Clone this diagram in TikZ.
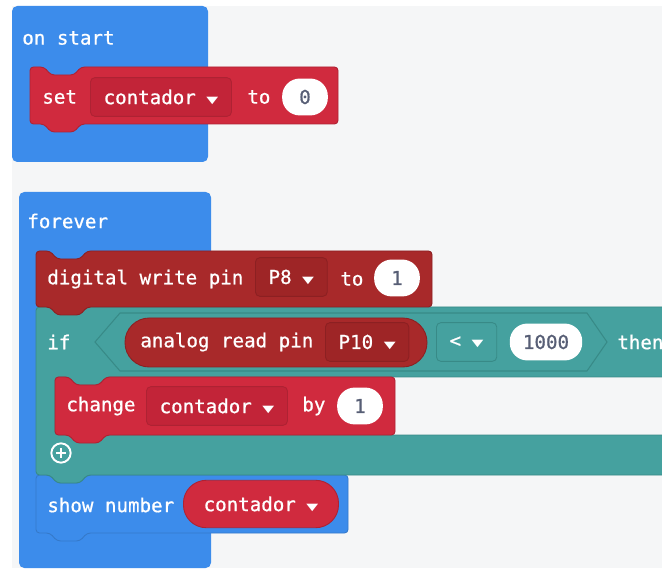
\documentclass[tikz,border=0pt]{standalone}
\usepackage{fontspec}
\usepackage{graphicx}
\usetikzlibrary{calc}
\newfontfamily\blockfont[FakeBold=0.8]{DejaVu Sans Mono}
\newfontfamily\symfont{DejaVu Sans}
\definecolor{CanvasGray}{HTML}{F5F6F7}
\definecolor{BasicBlue}{HTML}{3C8CEB}
\definecolor{BasicEdge}{HTML}{3579C9}
\definecolor{VarRed}{HTML}{D02A3E}
\definecolor{VarEdge}{HTML}{AE2233}
\definecolor{VarDrop}{HTML}{C22438}
\definecolor{PinRed}{HTML}{A8292A}
\definecolor{PinEdge}{HTML}{8C2022}
\definecolor{PinDrop}{HTML}{9E2526}
\definecolor{LogicTeal}{HTML}{45A19F}
\definecolor{LogicEdge}{HTML}{388A87}
\definecolor{PillText}{HTML}{575E75}

% small dropdown triangle
\newcommand{\ddarrow}{\hspace{6pt}\raisebox{0.5pt}{\scalebox{1.1}[0.7]{\symfont\fontsize{8}{8}\selectfont ▼}}}
% stack block with top notch and bottom tab: style, x0, y0, x1, y1
\newcommand{\stackblock}[5]{%
  \path[#1] (#2,#3) -- ({#2+14},#3) -- ({#2+21},{#3+8}) -- ({#2+44},{#3+8})
    -- ({#2+51},#3) -- (#4,#3) -- (#4,#5) -- ({#2+51},#5) -- ({#2+44},{#5+8})
    -- ({#2+21},{#5+8}) -- ({#2+14},#5) -- (#2,#5) -- cycle;}

\begin{document}
\begin{tikzpicture}[x=0.02cm,y=-0.02cm,
    label/.style={font=\blockfont\fontsize{10.9}{13}\selectfont,text=white,
                  inner sep=0pt,anchor=west},
    dropdown/.style 2 args={label,fill=#1,draw=#2,line width=0.5pt,
                  rounded corners=2.5pt,inner xsep=7.5pt,minimum height=22pt},
    pill/.style={label,fill=white,text=PillText,anchor=center,rounded corners=10pt,
                 minimum width=26pt,minimum height=21pt,inner xsep=7.5pt},
    varpill/.style={label,fill=VarRed,draw=VarEdge,line width=0.5pt,
                    rounded corners=13pt,minimum height=27pt,inner xsep=11.5pt},
    varblk/.style={fill=VarRed,draw=VarEdge,line width=0.5pt,rounded corners=2pt},
    pinblk/.style={fill=PinRed,draw=PinEdge,line width=0.5pt,rounded corners=2pt},
    basicblk/.style={fill=BasicBlue,draw=BasicEdge,line width=0.5pt,rounded corners=2pt},
    logicblk/.style={fill=LogicTeal,draw=LogicEdge,line width=0.5pt,rounded corners=2pt},
  ]
  \fill[white] (0,0) rectangle (662,570);
  \useasboundingbox (0,0) rectangle (662,570);
  \clip (0,0) rectangle (662,570);
  \fill[CanvasGray] (12,6) rectangle (662,568);

  % on start
  \fill[BasicBlue,rounded corners=3pt] (12,6) rectangle (208,162);
  \stackblock{varblk}{30}{67}{338}{124}
  \node[label] (onstart) at (22,38) {on start};
  \node[label] (settxt) at (42,97) {set};
  \node[dropdown={VarDrop}{VarEdge}] (setvar) at (90,97) {contador\ddarrow};
  \node[label] (settotxt) at (247,97) {to};
  \node[pill] (setval) at (305,97) {0};

  % forever
  \fill[BasicBlue,rounded corners=3pt] (19,192) rectangle (211,568);
  \stackblock{basicblk}{36}{475}{348}{533}
  \path[logicblk] (36,307) -- (672,307) -- (672,377) -- (106,377) -- (99,385)
    -- (76,385) -- (69,377) -- (55,377) -- (55,435) -- (672,435) -- (672,475)
    -- (87,475) -- (80,483) -- (57,483) -- (50,475) -- (36,475) -- cycle;
  \stackblock{varblk}{55}{377}{395}{435}
  \stackblock{pinblk}{36}{251}{432}{307}
  \node[label] (forevertxt) at (27,221) {forever};

  \node[label] (writetxt) at (47,279) {digital write pin};
  \node[dropdown={PinDrop}{PinEdge}] (writepin) at (255,277) {P8\ddarrow};
  \node[label] (writetotxt) at (340,279) {to};
  \node[pill] (writeval) at (397,278) {1};

  \node[label] (iftxt) at (47,342) {if};
  \draw[fill=LogicTeal,draw=LogicEdge,line width=0.6pt]
    (95,342) -- (120,313) -- (587,313) -- (607,342) -- (587,371) -- (120,371) -- cycle;
  \draw[fill=PinRed,draw=PinEdge,line width=0.5pt,rounded corners=13.8pt]
    (125,318) rectangle (427,367);
  \node[label] (readtxt) at (140,342) {analog read pin};
  \node[dropdown={PinDrop}{PinEdge}] (readpin) at (325,342) {P10\ddarrow};
  \node[dropdown={LogicTeal}{LogicEdge}] (cmpop) at (436,342) {<\ddarrow};
  \node[pill] (cmpval) at (546,342) {1000};
  \node[label] (thentxt) at (617,342) {then};

  \node[label] (changetxt) at (66,406) {change};
  \node[dropdown={VarDrop}{VarEdge}] (changevar) at (146,406) {contador\ddarrow};
  \node[label] (bytxt) at (302,406) {by};
  \node[pill] (changeval) at (360,406) {1};

  \node[circle,draw=white,line width=1.1pt,minimum size=11pt,inner sep=0pt] (addbtn) at (61,453) {};
  \draw[white,line width=1.6pt] ($(addbtn.center)+(-5,0)$) -- ($(addbtn.center)+(5,0)$);
  \draw[white,line width=1.6pt] ($(addbtn.center)+(0,-5)$) -- ($(addbtn.center)+(0,5)$);

  \node[label] (showtxt) at (47,505) {show number};
  \node[varpill] (showvar) at (183,504) {contador\ddarrow};
\end{tikzpicture}
\end{document}
